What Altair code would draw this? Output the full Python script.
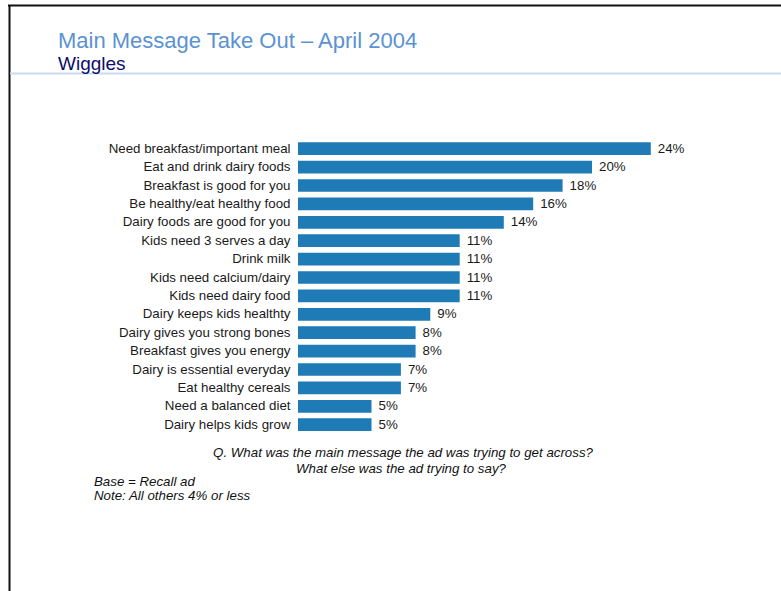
import altair as alt
import pandas as pd

categories = [
    "Need breakfast/important meal",
    "Eat and drink dairy foods",
    "Breakfast is good for you",
    "Be healthy/eat healthy food",
    "Dairy foods are good for you",
    "Kids need 3 serves a day",
    "Drink milk",
    "Kids need calcium/dairy",
    "Kids need dairy food",
    "Dairy keeps kids healthty",
    "Dairy gives you strong bones",
    "Breakfast gives you energy",
    "Dairy is essential everyday",
    "Eat healthy cereals",
    "Need a balanced diet",
    "Dairy helps kids grow",
]
values = [24, 20, 18, 16, 14, 11, 11, 11, 11, 9, 8, 8, 7, 7, 5, 5]
labels = [f"{v}%" for v in values]

title_text = "Main Message Take Out \u2013 April 2004"
subtitle_text = "Wiggles"
question_lines = [
    "Q. What was the main message the ad was trying to get across?",
    "What else was the ad trying to say?",
]
note_lines = ["Base = Recall ad", "Note: All others 4% or less"]

df = pd.DataFrame({"cat": categories, "val": values, "lab": labels})

FONT = "Liberation Sans"
FS = 13.3
W, H = 441, 294.4
OX, OY = 298, 139.5  # plot origin in page pixels

x_scale = alt.Scale(domain=[0, 30], nice=False)
y_enc = alt.Y(
    "cat:N",
    sort=categories,
    scale=alt.Scale(paddingInner=0.31, paddingOuter=0.155),
    axis=alt.Axis(
        title=None, domain=False, ticks=False, grid=False,
        labelFont=FONT, labelFontSize=FS, labelColor="#1a1a1a",
        labelPadding=8, labelLimit=400,
    ),
)

bars = alt.Chart(df).mark_bar(color="#1f7bb6").encode(
    x=alt.X("val:Q", scale=x_scale, axis=None),
    y=y_enc,
)
vals = alt.Chart(df).mark_text(
    align="left", baseline="middle", dx=7, font=FONT, fontSize=FS, color="#1a1a1a"
).encode(
    x=alt.X("val:Q", scale=x_scale),
    y=alt.Y("cat:N", sort=categories),
    text="lab:N",
)

one = pd.DataFrame({"a": [0]})


def px(x):
    return x - OX


def py(y):
    return y - OY


def rule(x1, x2, y1, y2, color, w):
    return alt.Chart(one).mark_rule(color=color, strokeWidth=w).encode(
        x=alt.value(px(x1)), x2=alt.value(px(x2)),
        y=alt.value(py(y1)), y2=alt.value(py(y2)),
    )


def text(t, x, y, size, color, italic=False, align="left"):
    return alt.Chart(one).mark_text(
        text=t, align=align, baseline="alphabetic", font=FONT, fontSize=size,
        color=color, fontStyle="italic" if italic else "normal",
    ).encode(x=alt.value(px(x)), y=alt.value(py(y)))


layers = [
    rule(8, 781, 5.5, 5.5, "#111111", 2),
    rule(9.5, 9.5, 5, 591, "#111111", 2),
    rule(10, 781, 73.5, 73.5, "#c9dbf0", 2),
    text(title_text, 58, 48, 22, "#5b92d2"),
    text(subtitle_text, 58, 70, 19, "#0d0d6b"),
    text(question_lines[0], 403, 457, FS, "#111111", italic=True, align="center"),
    text(question_lines[1], 401, 473, FS, "#111111", italic=True, align="center"),
    text(note_lines[0], 94, 486, FS, "#111111", italic=True),
    text(note_lines[1], 94, 500, FS, "#111111", italic=True),
    bars,
    vals,
]

chart = alt.layer(*layers).properties(
    width=W, height=H,
    autosize=alt.AutoSizeParams(type="none"),
    padding={"left": OX, "top": OY, "right": 781 - OX - W, "bottom": 591 - OY - H},
    background="white",
).configure_view(stroke=None)

chart.save("out.html", embed_options={"renderer": "svg", "actions": False})
